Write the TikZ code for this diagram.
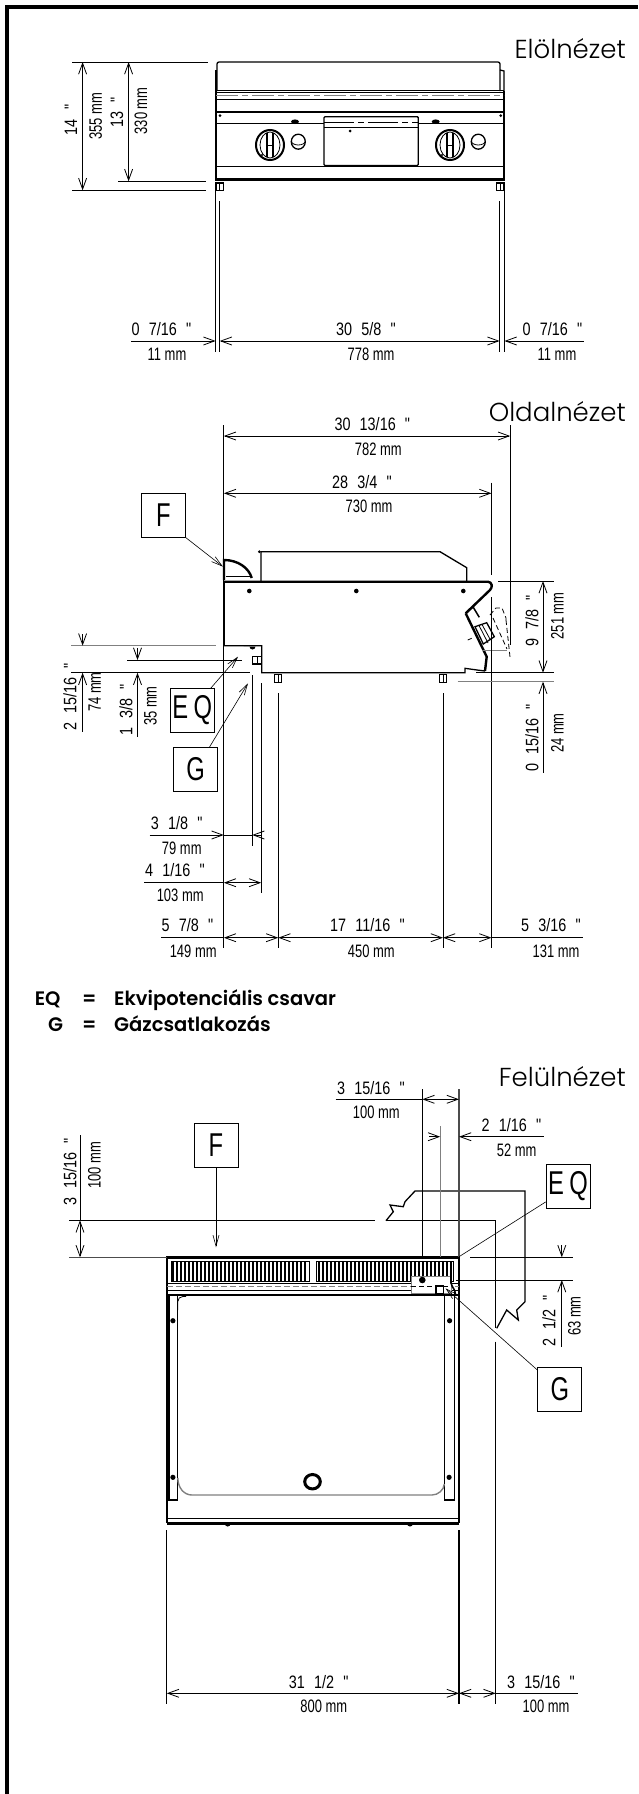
\documentclass[tikz,border=0pt]{standalone}
\usepackage{fontspec}
\usepackage{tikz}
\usetikzlibrary{arrows.meta, positioning, calc}
\newfontfamily\dimfont{Liberation Sans}[FakeStretch=0.72]
\newfontfamily\inchfont{Liberation Sans}[FakeStretch=0.8, WordSpace=2.3]
\newfontfamily\viewfont{Poppins}[UprightFont=* Light]
\newfontfamily\legendfont{Poppins}[UprightFont=* SemiBold]
\tikzset{
  dimtext/.style={font=\dimfont\fontsize{18}{20}\selectfont, inner sep=0pt, anchor=center},
  dimvert/.style={dimtext, rotate=90},
  inchtext/.style={font=\inchfont\fontsize{18}{20}\selectfont, inner sep=0pt, anchor=center},
  inchvert/.style={inchtext, rotate=90},
  viewtitle/.style={font=\viewfont\fontsize{26}{28}\selectfont, inner sep=0pt, anchor=base east},
  legendtext/.style={font=\legendfont\fontsize{19.5}{22}\selectfont, inner sep=0pt, anchor=base west},
  tagbox/.style={draw, line width=0.7pt, minimum size=44pt, inner sep=0pt, font=\dimfont\fontsize{33}{35}\selectfont},
  thinline/.style={line width=0.8pt},
  dimline/.style={line width=0.8pt, >={Straight Barb[length=11pt,width=8pt]}},
  leader/.style={line width=0.6pt, >={Straight Barb[length=11pt,width=6pt]}},
  bodyline/.style={line width=1.3pt},
  boldline/.style={line width=2.4pt}
}
\begin{document}
\begin{tikzpicture}[x=1pt,y=-1pt]
\useasboundingbox (0,0) rectangle (638,1794);
\fill[white] (0,0) rectangle (638,1794);

% Page frame
\draw[line width=4pt] (7,1794) -- (7,7) -- (638,7);

% View titles
\node[viewtitle] (titleFront) at (626,58.3) {Elölnézet};
\node[viewtitle] (titleSide) at (626,421.7) {Oldalnézet};
\node[viewtitle] (titleTop) at (626,1086.7) {Felülnézet};

% Front view: lid and bands
\draw[bodyline, rounded corners=2pt] (217,91) -- (217,62) -- (500,62) -- (500,91);
\draw[bodyline] (500,70) -- (504,71) -- (504,91);
\draw[bodyline] (216,70) -- (216,181);
\draw[bodyline] (504,91) -- (504,181);
\draw[thinline] (216,90.7) -- (504,90.7);
\draw[thinline] (216,92.7) -- (504,92.7);
\draw[line width=0.9pt, gray, dash pattern=on 22pt off 4pt on 6pt off 4pt] (216,95.7) -- (504,95.7);
\draw[thinline] (216,99.3) -- (504,99.3);
\draw[boldline] (216,111.7) -- (504,111.7);
\draw[thinline] (216,123.3) -- (324,123.3);
\draw[thinline] (418,123.3) -- (504,123.3);
\draw[thinline] (216,166.5) -- (504,166.5);
\draw[boldline] (216,179.5) -- (504,179.5);

% Front view: centre flap
\draw[bodyline, rounded corners=1pt] (324,116.7) rectangle (418.3,165.5);
\draw[line width=0.9pt, dash pattern=on 30pt off 4pt on 6pt off 4pt] (324,122.7) -- (418,122.7);
\draw[bodyline] (324,127.3) -- (418,127.3);
\fill (350,131) circle (1.5pt);
\fill (220,115.7) circle (1.5pt);
\fill (500.7,115.7) circle (1.5pt);

% Front view: knobs, buttons, feet
\foreach \kx/\bx/\ox in {270/298.3/295, 450/478.3/435.7} {
  \draw[line width=2pt] (\kx,145) ellipse (14pt and 15pt);
  \draw[thinline] (\kx,145) ellipse (10pt and 13pt);
  \draw[line width=1.4pt] (\kx-3,133) -- (\kx-3,157);
  \draw[line width=1.4pt] (\kx+3,133) -- (\kx+3,157);
  \draw[thinline] (\kx-3,145) -- (\kx+3,145);
  \fill (\kx-8,155) circle (1.2pt);
  \draw[bodyline] (\bx,141.7) ellipse (7pt and 7.5pt);
  \draw[thinline] (\bx-7,141) arc (180:360:7pt and 4pt);
  \fill (\ox,121.7) ellipse (4pt and 2.3pt);
}
\foreach \fx in {216,496.7} {
  \draw[bodyline] (\fx,183) rectangle (\fx+7.3,190.7);
  \draw[thinline] (\fx+3.6,183) -- (\fx+3.6,190.7);
}

% Front view: dimensions
\draw[thinline] (72,62) -- (207.5,62);
\draw[thinline] (118,181.3) -- (205.5,181.3);
\draw[thinline] (72,190.3) -- (205.5,190.3);
\draw[dimline, <->] (82.6,62) -- (82.6,190.3);
\draw[dimline, <->] (128.6,62) -- (128.6,181.3);
\node[inchvert] (fh1) at (71,120) {14 "};
\node[dimvert] (fh2) at (95.6,116) {355 mm};
\node[inchvert] (fh3) at (117,112.5) {13 "};
\node[dimvert] (fh4) at (141,111) {330 mm};
\draw[thinline] (215.6,185) -- (215.6,351.7);
\draw[thinline] (219.7,201) -- (219.7,351.7);
\draw[thinline] (499.6,201) -- (499.6,351.7);
\draw[thinline] (504.5,185) -- (504.5,351.7);
\draw[dimline, ->] (131,341) -- (215.6,341);
\draw[dimline, <->] (219.7,341) -- (499.6,341);
\draw[dimline, <-] (504.5,341) -- (584,341);
\node[inchtext] (fw1) at (161.5,329.3) {0 7/16 "};
\node[dimtext] (fw2) at (167,354) {11 mm};
\node[inchtext] (fw3) at (366,329.3) {30 5/8 "};
\node[dimtext] (fw4) at (371,354) {778 mm};
\node[inchtext] (fw5) at (552.5,329.3) {0 7/16 "};
\node[dimtext] (fw6) at (557,354) {11 mm};

% Side view: body
\draw[boldline] (224,580) -- (224,560) .. controls (238,560) and (249,568) .. (251.7,578);
\draw[thinline] (226,576.7) -- (251.7,576.7);
\draw[bodyline] (261,581) -- (261,551.7) -- (440,551.7) -- (466.7,567.7) -- (466.7,581);
\fill (259.3,551.7) circle (1.5pt);
\draw[boldline] (224,581.7) -- (488,581.7) .. controls (492,582) and (493,587) .. (490,590) -- (465.7,613.3);
\draw[boldline] (224,581.7) -- (224,645.7);
\draw[bodyline] (224,645.7) -- (261.7,645.7) -- (261.7,672.7) -- (465,672.7) -- (465,668.3) -- (477,670) -- (485,671);
\draw[boldline] (465.7,613.3) -- (486.7,656.7) -- (485,671);
\draw[line width=1.5pt] (473.3,607.3) -- (479.3,617.3);
\draw[thinline] (465.7,613.3) -- (473.3,607.3);
\fill (249.3,591) circle (2.3pt);
\fill (356.3,591) circle (2.3pt);
\fill (463.3,591) circle (2.3pt);
\fill (243.5,646.5) -- (249.5,646.5) arc (0:180:-3pt);
\draw[bodyline] (252.3,656.7) rectangle (261.7,664);
\draw[thinline] (257,656.7) -- (257,664);
\foreach \fx in {274.3,439.3} {
  \draw[bodyline] (\fx,674.3) rectangle (\fx+7.5,682.3);
  \draw[thinline] (\fx+3.7,674.3) -- (\fx+3.7,682.3);
}

% Side view: knob and its dashed position
\draw[bodyline] (475,626.7) -- (486.7,622.7) -- (494.3,636.7) -- (483.3,644) -- cycle;
\draw[thinline] (479,625.5) -- (488,643);
\draw[thinline] (482,624.5) -- (490.5,640);
\draw[thinline, dash pattern=on 5pt off 3pt] (490,615) -- (496,608) -- (502,608) -- (506,618) -- (506,620);
\draw[thinline, dash pattern=on 5pt off 3pt] (493,618) -- (507,649);
\draw[thinline, dash pattern=on 5pt off 3pt] (506,620) -- (510,657);
\draw[thinline] (467.7,640) -- (471.7,638.3);
\draw[thinline, gray] (482,650) -- (507,650);

% Side view: horizontal dimensions
\draw[thinline] (223.8,425) -- (223.8,948.3);
\draw[thinline] (510.2,425) -- (510.2,645);
\draw[thinline] (491.5,482.7) -- (491.5,575);
\draw[thinline] (491.5,597) -- (491.5,948.3);
\draw[dimline, <->] (223.8,436) -- (510.2,436);
\draw[dimline, <->] (223.8,493.3) -- (491.5,493.3);
\node[inchtext] (sw1) at (372.3,424) {30 13/16 "};
\node[dimtext] (sw2) at (378.4,449.3) {782 mm};
\node[inchtext] (sw3) at (362,481.7) {28 3/4 "};
\node[dimtext] (sw4) at (369,506.7) {730 mm};

% Side view: right heights
\draw[thinline] (498.4,581) -- (554,581);
\draw[thinline] (476,672.7) -- (554,672.7);
\draw[line width=1.1pt, gray] (457.7,681.7) -- (554,681.7);
\draw[dimline, <->] (543,581) -- (543,672.7);
\draw[dimline, <-] (543,681.7) -- (543,773.3);
\node[inchvert] (sh1) at (532,621) {9 7/8 "};
\node[dimvert] (sh2) at (557.4,615.8) {251 mm};
\node[inchvert] (sh3) at (532,738) {0 15/16 "};
\node[dimvert] (sh4) at (557.4,733) {24 mm};

% Side view: left heights
\draw[line width=1.1pt, gray] (71,645.7) -- (215.6,645.7);
\draw[thinline] (127,660) -- (242,660);
\draw[thinline] (71,672.7) -- (250,672.7);
\draw[dimline, ->] (82.6,634) -- (82.6,645.7);
\draw[dimline, <-] (82.6,672.7) -- (82.6,731.7);
\draw[dimline, ->] (137.5,648) -- (137.5,660);
\draw[dimline, <-] (137.5,672.7) -- (137.5,736.7);
\node[inchvert] (sh5) at (70,697) {2 15/16 "};
\node[dimvert] (sh6) at (94.8,692) {74 mm};
\node[inchvert] (sh7) at (126,710) {1 3/8 "};
\node[dimvert] (sh8) at (150.5,706) {35 mm};

% Side view: tags
\node[tagbox] (tagF) at (163.5,515.3) {F};
\node[tagbox] (tagEQ) at (192.2,710.3) {E\,Q};
\node[tagbox] (tagG) at (195.5,769.5) {G};
\coordinate (hood) at (223,566.7);
\coordinate (eqscrew) at (238,656.7);
\coordinate (gasinlet) at (248,683.3);
\draw[leader, ->] (tagF.south east) -- (hood);
\draw[leader, ->] (tagEQ.50) -- (eqscrew);
\draw[leader, ->] (tagG.58) -- (gasinlet);

% Side view: lower dimensions
\draw[thinline] (252.2,675) -- (252.2,846);
\draw[thinline] (261.2,683) -- (261.2,893.3);
\draw[thinline] (278.3,693.3) -- (278.3,948.3);
\draw[thinline] (443,693.3) -- (443,948.3);
\draw[dimline, ->] (149.7,835) -- (223.8,835);
\draw[dimline, <-] (252.2,835) -- (261.2,835);
\draw[dimline] (223.8,835) -- (252.2,835);
\draw[dimline, <->] (223.8,882.7) -- (261.2,882.7);
\draw[dimline] (144,882.7) -- (223.8,882.7);
\draw[dimline] (161,937.7) -- (223.8,937.7);
\draw[dimline, <->] (223.8,937.7) -- (278.3,937.7);
\draw[dimline, <->] (278.3,937.7) -- (443,937.7);
\draw[dimline, <->] (443,937.7) -- (491.5,937.7);
\draw[dimline] (491.5,937.7) -- (583.4,937.7);
\node[inchtext] (sl1) at (176.6,822.7) {3 1/8 "};
\node[dimtext] (sl2) at (181.8,848.3) {79 mm};
\node[inchtext] (sl3) at (175,870) {4 1/16 "};
\node[dimtext] (sl4) at (180.2,895.7) {103 mm};
\node[inchtext] (sl5) at (187.5,925) {5 7/8 "};
\node[dimtext] (sl6) at (193.2,951) {149 mm};
\node[inchtext] (sl7) at (367.4,925) {17 11/16 "};
\node[dimtext] (sl8) at (371.4,951) {450 mm};
\node[inchtext] (sl9) at (550.9,925) {5 3/16 "};
\node[dimtext] (sl10) at (556,951) {131 mm};

% Legend
\node[legendtext] (legEQ) at (34.6,1005) {EQ};
\node[legendtext] (legEQeq) at (82,1005) {=};
\node[legendtext] (legEQtxt) at (114,1005) {Ekvipotenciális csavar};
\node[legendtext] (legG) at (48,1031.7) {G};
\node[legendtext] (legGeq) at (82,1031.7) {=};
\node[legendtext] (legGtxt) at (114,1031.7) {Gázcsatlakozás};

% Top view: wall behind the appliance
\draw[bodyline] (386,1220.7) -- (393.3,1211.7) -- (390,1205) -- (403.3,1206.7) -- (405,1201.7) -- (415,1191) -- (525,1191) -- (525,1301.7) -- (516.7,1310) -- (518.3,1320) -- (506.7,1310) -- (496.7,1328.3);
\draw[bodyline] (386,1220.7) -- (495.7,1220.7) -- (495.7,1328.3);
\draw[thinline] (495.7,1341.7) -- (495.7,1704.3);

% Top view: burner strips
\foreach \hx in {173,177,...,308} {
  \draw[line width=2.8pt] (\hx,1262) -- (\hx,1281.7);
}
\foreach \hx in {319,323,...,453} {
  \draw[line width=2.8pt] (\hx,1262) -- (\hx,1281.7);
}
\draw[thinline] (171,1261) rectangle (309,1281.7);
\draw[thinline] (316.5,1261) rectangle (453.6,1281.7);

% Top view: body outline
\draw[boldline] (459,1257.3) -- (166.8,1257.3) -- (166.8,1523.3);
\draw[bodyline] (459,1257.3) -- (459,1523.3);
\draw[boldline] (166.8,1523.3) -- (459,1523.3);
\draw[thinline] (166.8,1518.3) -- (459,1518.3);
\draw[bodyline] (166.8,1283.3) -- (459,1283.3);
\draw[thinline, gray, dash pattern=on 6pt off 3pt] (166.8,1286.7) -- (459,1286.7);
\draw[thinline] (166.8,1290.7) -- (459,1290.7);
\draw[bodyline] (166.8,1295) -- (459,1295);

% Top view: side strips and plate
\draw[bodyline] (169,1295) -- (169,1500) -- (177.8,1500) -- (177.8,1295);
\draw[bodyline] (444.3,1295) -- (444.3,1500) -- (454.8,1500) -- (454.8,1295);
\draw[thinline, rounded corners=5pt] (177.8,1310) -- (177.8,1296.5) -- (186,1296.5);
\draw[line width=1.4pt, gray] (177.8,1478) .. controls (178,1488) and (184,1495) .. (192,1495) -- (432,1495) .. controls (438,1495) and (444,1490) .. (444.3,1484);
\foreach \sx/\sy in {172.9/1320.7, 449.6/1320.7, 172.9/1477.3, 449.1/1477.3} {
  \fill (\sx,\sy) circle (2.6pt);
}
\draw[line width=3pt] (312.5,1481.7) ellipse (7.8pt and 7.2pt);
\foreach \fx in {221.7,404} {
  \fill (\fx-3,1523.5) -- (\fx+3,1523.5) arc (0:180:-3pt);
}

% Top view: connection block
\fill[white] (411,1276) rectangle (450.8,1293.3);
\draw[line width=0.5pt, gray] (411,1276) rectangle (450.8,1293.3);
\draw[thinline, dash pattern=on 5pt off 3pt] (411,1286.5) -- (448,1286.5);
\fill (422.3,1280) circle (3.3pt);
\draw[bodyline] (436,1286) rectangle (443.5,1293.3);
\draw[line width=1.6pt] (451,1276) -- (451,1283) .. controls (452,1288) and (456,1290) .. (455,1294);

% Top view: dimensions
\draw[thinline] (422.3,1089.3) -- (422.3,1256.7);
\draw[line width=1.1pt, gray] (440.2,1126) -- (440.2,1256.7);
\draw[line width=1.2pt, black!70] (459,1089.3) -- (459,1256.7);
\draw[dimline] (335.6,1099.3) -- (422.3,1099.3);
\draw[dimline, <->] (422.3,1099.3) -- (459,1099.3);
\draw[dimline, ->] (429,1136.7) -- (440.2,1136.7);
\draw[dimline, <-] (459,1136.7) -- (544,1136.7);
\node[inchtext] (tw1) at (371,1087.7) {3 15/16 "};
\node[dimtext] (tw2) at (376.3,1112.7) {100 mm};
\node[inchtext] (tw3) at (511.4,1125) {2 1/16 "};
\node[dimtext] (tw4) at (516.7,1150) {52 mm};
\draw[thinline] (69,1220.3) -- (375,1220.3);
\draw[line width=1.1pt, black!70] (69,1257.3) -- (166.8,1257.3);
\draw[dimline] (80,1135) -- (80,1220.3);
\draw[dimline, <->] (80,1220.3) -- (80,1257.3);
\node[inchvert] (th1) at (70,1171.7) {3 15/16 "};
\node[dimvert] (th2) at (94.4,1165) {100 mm};
\draw[thinline] (470,1257.3) -- (572.8,1257.3);
\draw[thinline] (455.7,1280) -- (572.8,1280);
\draw[dimline, ->] (561.8,1245) -- (561.8,1257.3);
\draw[dimline, <-] (561.8,1280) -- (561.8,1346.7);
\node[inchvert] (th3) at (549,1321) {2 1/2 "};
\node[dimvert] (th4) at (574.5,1316) {63 mm};

% Top view: tags
\node[tagbox] (tagFtop) at (216,1145.3) {F};
\node[tagbox] (tagEQtop) at (568,1186.3) {E\,Q};
\node[tagbox] (tagGtop) at (559.8,1389.5) {G};
\coordinate (stripF) at (216,1247.3);
\coordinate (cornerEQ) at (459,1256.7);
\coordinate (inletG) at (445.5,1288.3);
\draw[leader, ->] (tagFtop.south) -- (stripF);
\draw[leader] (tagEQtop.215) -- (cornerEQ);
\draw[leader, ->] (tagGtop.139) -- (inletG);

% Top view: bottom dimensions
\draw[thinline] (166.8,1530) -- (166.8,1704.3);
\draw[line width=1.1pt] (459,1530) -- (459,1704.3);
\draw[dimline, <->] (166.8,1693.3) -- (459,1693.3);
\draw[dimline, <->] (459,1693.3) -- (495.7,1693.3);
\draw[dimline] (495.7,1693.3) -- (577.7,1693.3);
\node[inchtext] (tl1) at (318.6,1681.7) {31 1/2 "};
\node[dimtext] (tl2) at (323.8,1706.7) {800 mm};
\node[inchtext] (tl3) at (541,1681.7) {3 15/16 "};
\node[dimtext] (tl4) at (546,1706.7) {100 mm};
\end{tikzpicture}
\end{document}
